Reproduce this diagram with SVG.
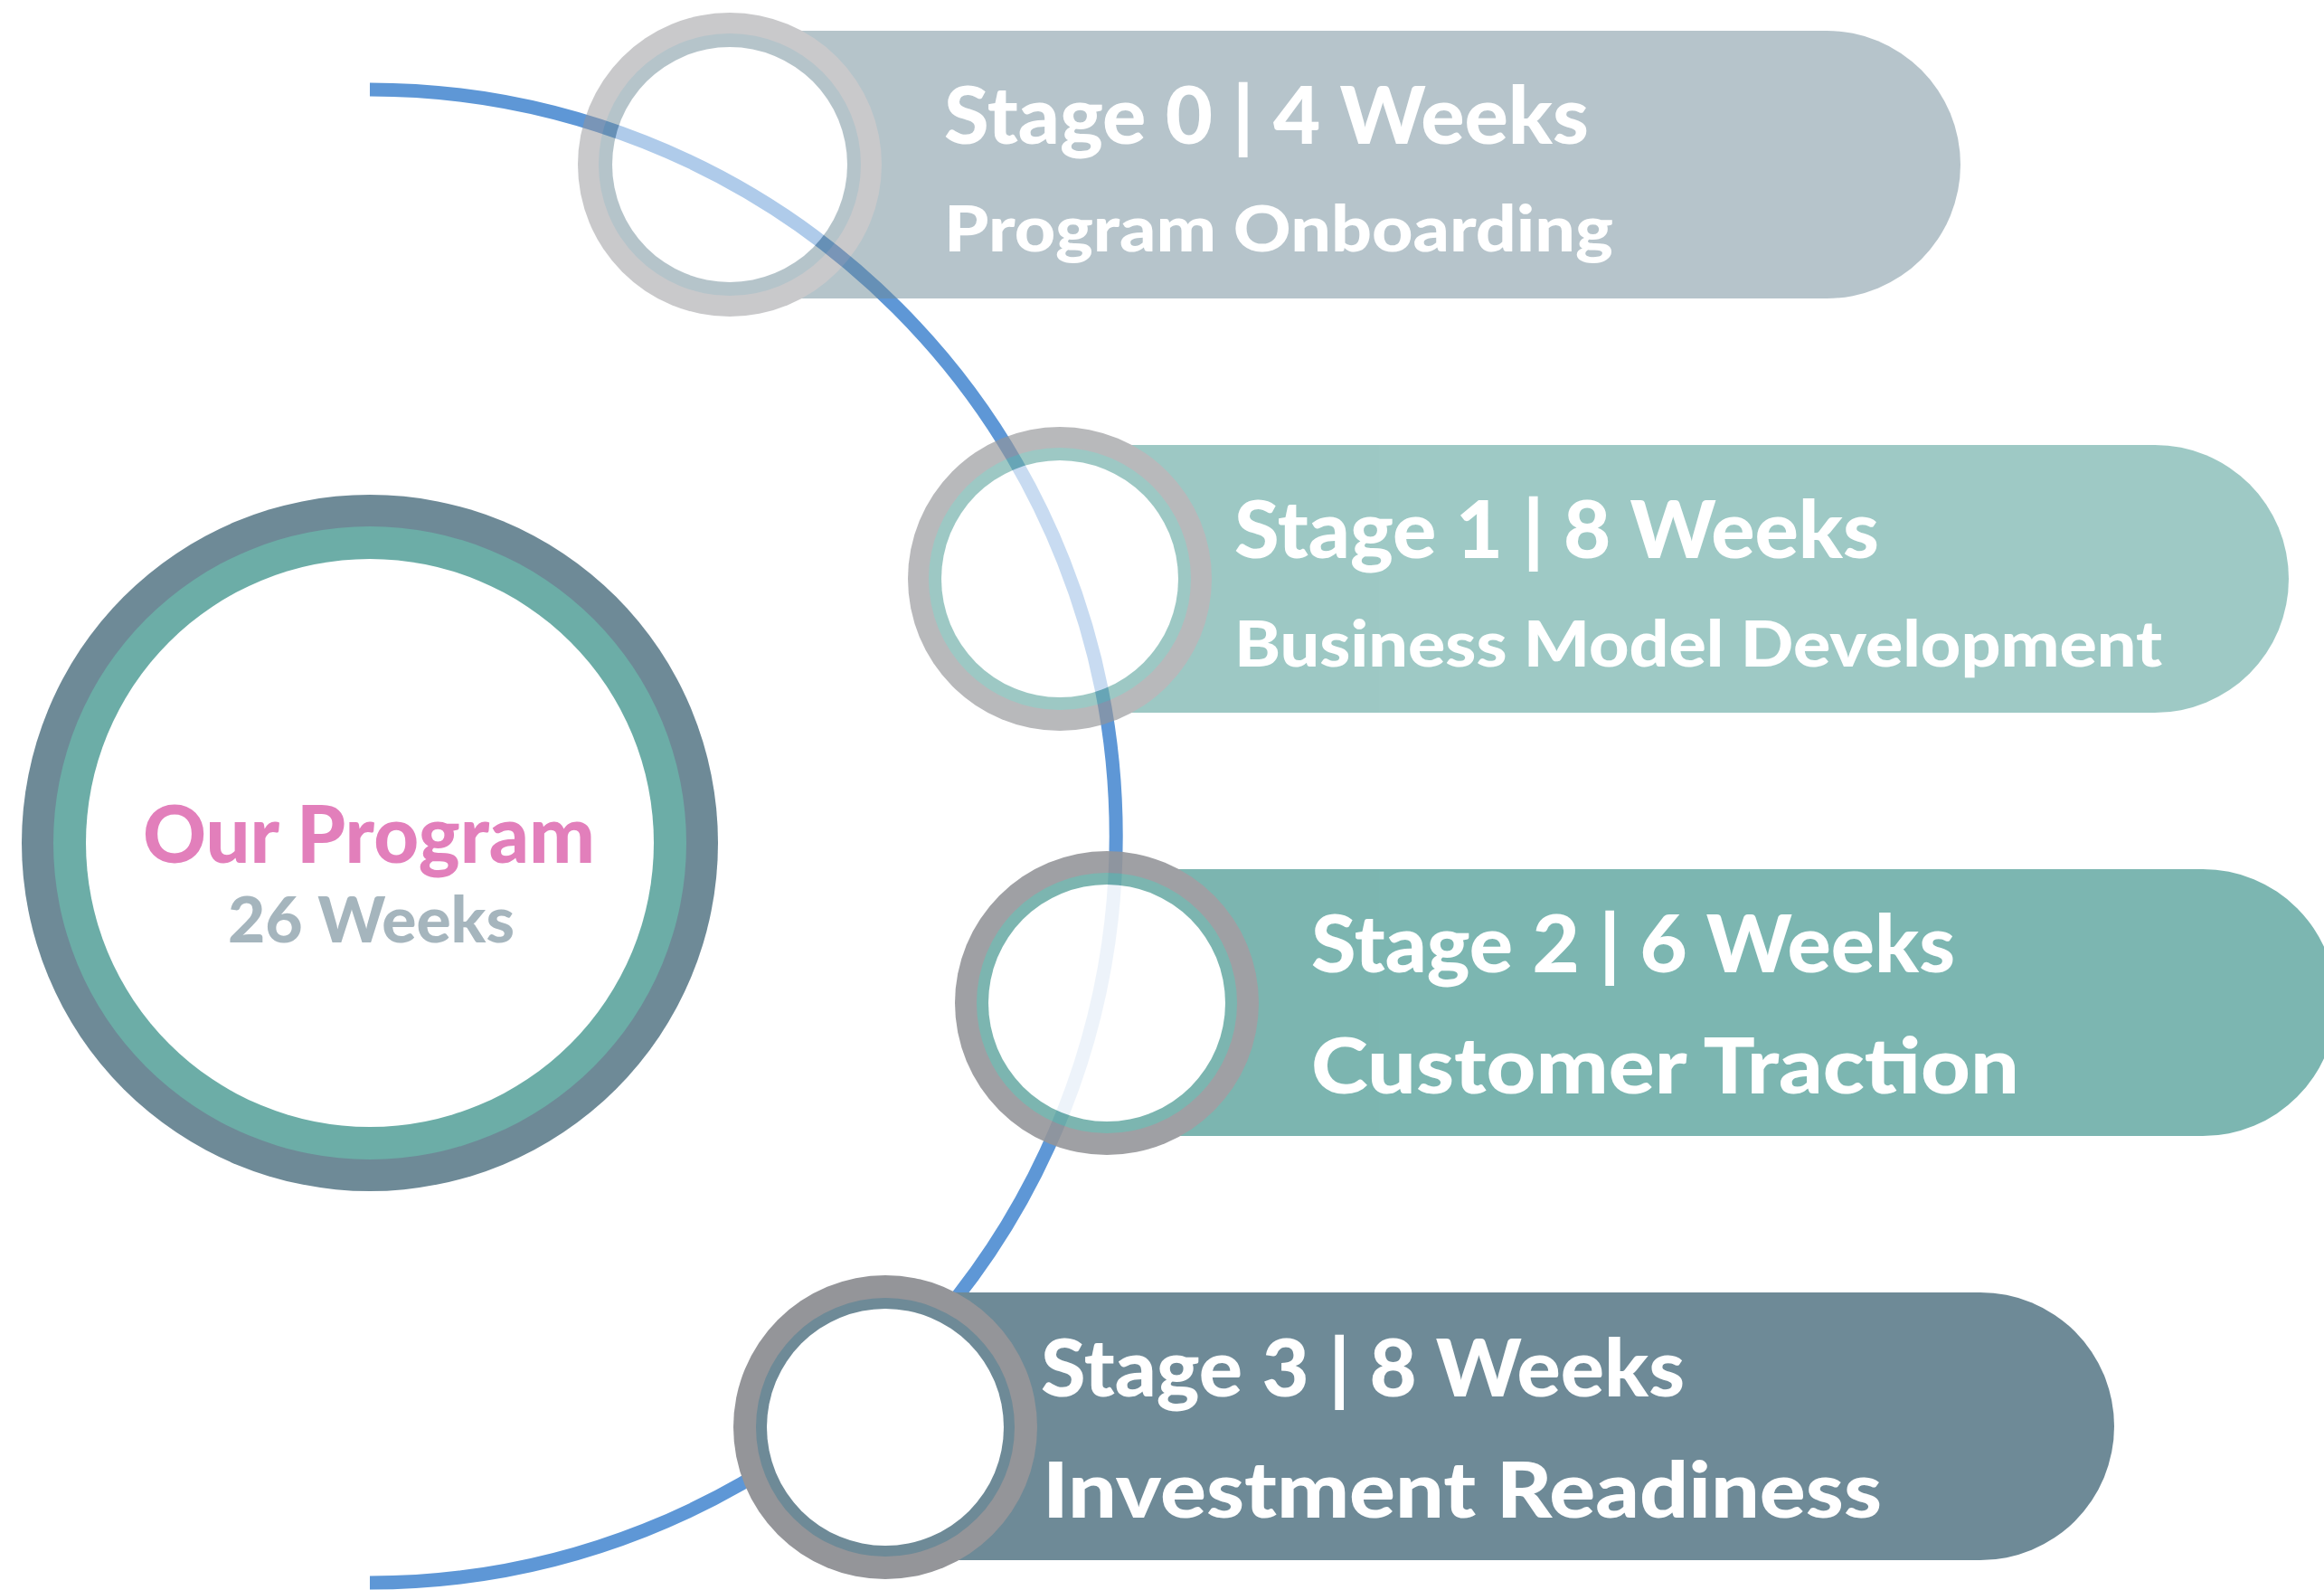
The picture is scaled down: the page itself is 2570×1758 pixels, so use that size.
<svg xmlns="http://www.w3.org/2000/svg" width="2570" height="1758" viewBox="0 0 2570 1758">
<style>
.t1{font-family:Lato,"Open Sans",sans-serif;font-weight:900;fill:#ffffff;font-size:88px}
.t2{font-family:Lato,"Open Sans",sans-serif;font-weight:900;fill:#ffffff;font-size:70px}
.t3{font-family:Lato,"Open Sans",sans-serif;font-weight:900;fill:#ffffff;font-size:86px}
.ring{fill:#949599}
.slate{fill:#6e8a97}
.teal{fill:#6cada7}
.hole{fill:#ffffff}
</style>
<rect width="2570" height="1758" fill="#ffffff"/>
<g id="connectors">
<path d="M409 99 A825.5 825.5 0 0 1 409 1750" fill="none" stroke="#5e97d6" stroke-width="15"/>
</g>
<g id="program">
<circle cx="409" cy="932" r="385" class="slate"/>
<circle cx="409" cy="932" r="350" class="teal"/>
<circle cx="409" cy="932" r="314" class="hole"/>
<text x="158" y="954" font-family="Lato,'Open Sans',sans-serif" font-weight="900" font-size="87" fill="#e27fbb" textLength="500" lengthAdjust="spacingAndGlyphs">Our Program</text>
<text x="252" y="1042" font-family="Lato,'Open Sans',sans-serif" font-weight="900" font-size="70" fill="#a5b5bd" textLength="317" lengthAdjust="spacingAndGlyphs">26 Weeks</text>
</g>
<g id="stage0">
<g opacity="0.5">
<path d="M807 34 H2020 A148 148 0 0 1 2020 330 H807 Z" class="slate"/>
<circle cx="807" cy="182" r="168" class="ring"/>
<circle cx="807" cy="182" r="145" class="slate"/>
<circle cx="807" cy="182" r="130" class="hole"/>
</g>
<text x="1044" y="159" class="t1" textLength="713" lengthAdjust="spacingAndGlyphs">Stage 0 | 4 Weeks</text>
<text x="1044" y="278" class="t2" textLength="740" lengthAdjust="spacingAndGlyphs">Program Onboarding</text>
</g>
<g id="stage1">
<g opacity="0.66">
<path d="M1172 492 H2383 A148 148 0 0 1 2383 788 H1172 Z" class="teal"/>
<circle cx="1172" cy="640" r="168" class="ring"/>
<circle cx="1172" cy="640" r="145" class="teal"/>
<circle cx="1172" cy="640" r="131" class="hole"/>
</g>
<text x="1365" y="617" class="t1" textLength="713" lengthAdjust="spacingAndGlyphs">Stage 1 | 8 Weeks</text>
<text x="1365" y="737" class="t2" textLength="1026" lengthAdjust="spacingAndGlyphs">Business Model Development</text>
</g>
<g id="stage2">
<g opacity="0.89">
<path d="M1224 961 H2436 A147.5 147.5 0 0 1 2436 1256 H1224 Z" class="teal"/>
<circle cx="1224" cy="1109" r="168" class="ring"/>
<circle cx="1224" cy="1109" r="144" class="teal"/>
<circle cx="1224" cy="1109" r="131" class="hole"/>
</g>
<text x="1450" y="1075" class="t1" textLength="712" lengthAdjust="spacingAndGlyphs">Stage 2 | 6 Weeks</text>
<text x="1450" y="1209" class="t3" textLength="783" lengthAdjust="spacingAndGlyphs">Customer Traction</text>
</g>
<g id="stage3">
<path d="M979 1429 H2190 A148 148 0 0 1 2190 1725 H979 Z" class="slate"/>
<circle cx="979" cy="1578" r="168" class="ring"/>
<circle cx="979" cy="1578" r="143" class="slate"/>
<circle cx="979" cy="1578" r="131" class="hole"/>
<text x="1151" y="1544" class="t1" textLength="712" lengthAdjust="spacingAndGlyphs">Stage 3 | 8 Weeks</text>
<text x="1153" y="1678" class="t3" textLength="928" lengthAdjust="spacingAndGlyphs">Investment Readiness</text>
</g>
</svg>
